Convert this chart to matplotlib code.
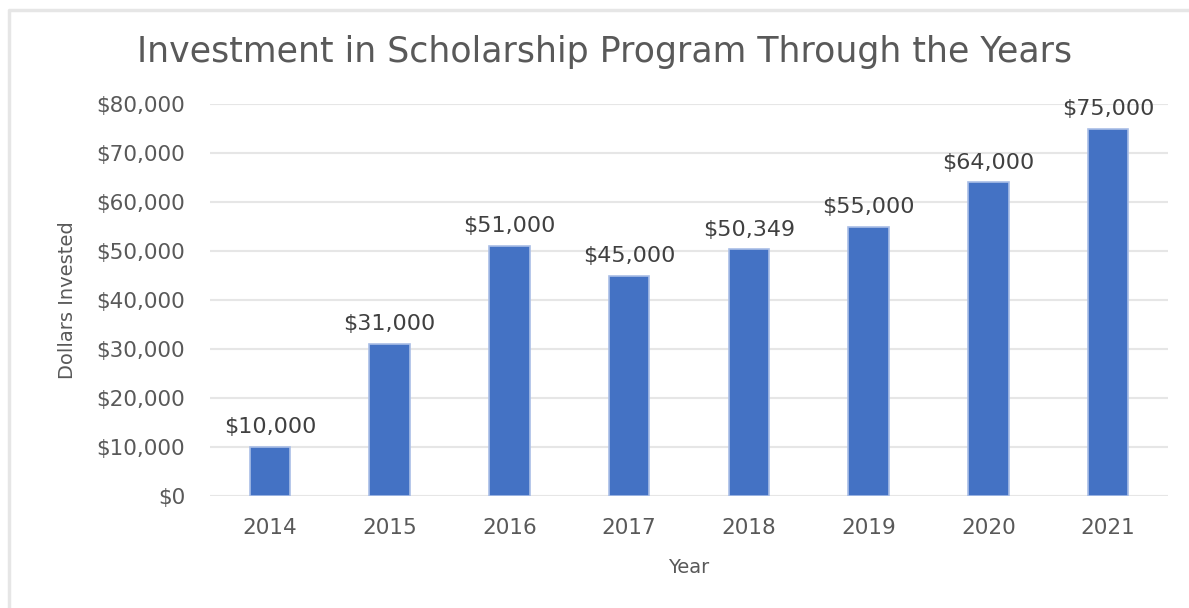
import matplotlib
matplotlib.use("Agg")
import matplotlib.pyplot as plt
from matplotlib.lines import Line2D
from matplotlib.ticker import FuncFormatter, MultipleLocator

years = ["2014", "2015", "2016", "2017", "2018", "2019", "2020", "2021"]
investment = [10000, 31000, 51000, 45000, 50349, 55000, 64000, 75000]

W, H = 1189, 608
fig = plt.figure(figsize=(W / 100, H / 100), dpi=100)
plt.rcParams['font.family'] = ['DejaVu Sans']

# outer chart border (top and left edges visible)
fig.lines.append(Line2D([9 / W, 9 / W, 1.0], [0.0, 1 - 10 / H, 1 - 10 / H],
                        transform=fig.transFigure, color='#E6E6E6', linewidth=2.5))

ax = fig.add_axes([210 / W, 1 - 496 / H, (1168 - 210) / W, (496 - 104) / H])
x = list(range(len(years)))
bars = ax.bar(x, investment, width=0.34, color='#4472C4',
              edgecolor='#A9BEE6', linewidth=1.2, zorder=3)

ax.set_xlim(-0.5, len(years) - 0.5)
ax.set_ylim(0, 80000)
ax.yaxis.set_major_locator(MultipleLocator(10000))
ax.yaxis.set_major_formatter(FuncFormatter(lambda v, p: f"${v:,.0f}"))
ax.set_xticks(x)
ax.set_xticklabels(years)
ax.grid(axis='y', color='#E6E6E6', linewidth=1.5, zorder=0)
for s in ax.spines.values():
    s.set_visible(False)
ax.tick_params(length=0, colors='#595959', labelsize=15.5)
ax.tick_params(axis='y', pad=18)
ax.tick_params(axis='x', pad=16)

for xi, v in zip(x, investment):
    ax.annotate(f"${v:,.0f}", (xi, v), xytext=(0, 7), textcoords='offset points',
                ha='center', va='bottom', fontsize=16, color='#404040')

ax.set_xlabel("Year", fontsize=14, color='#595959', labelpad=14)
ax.set_ylabel("Dollars Invested", fontsize=14, color='#595959', labelpad=14)
fig.text(605 / W, 1 - 52 / H, "Investment in Scholarship Program Through the Years",
         ha='center', va='center', fontsize=25, color='#595959')

fig.savefig("out.png", dpi=100)
